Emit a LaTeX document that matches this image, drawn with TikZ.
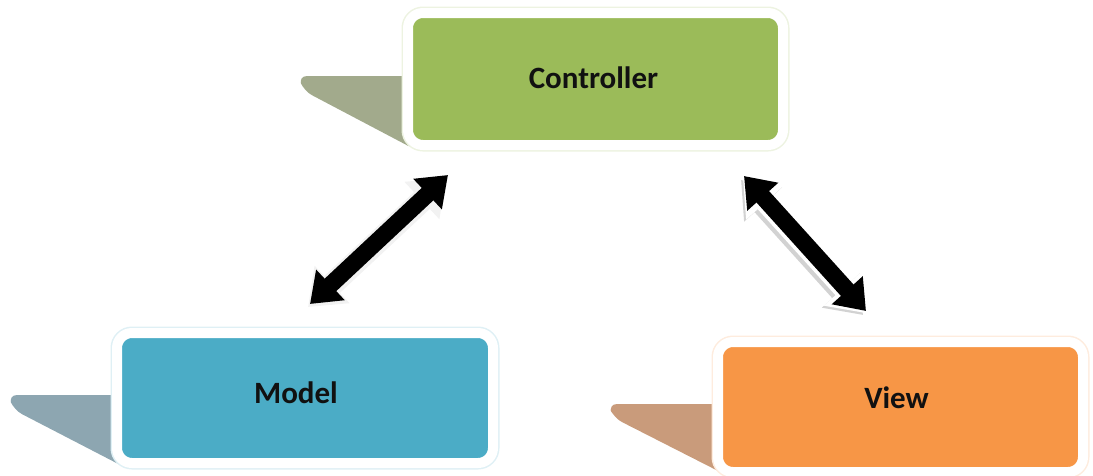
\documentclass[tikz,border=0pt]{standalone}
\usepackage{fontspec}
\setmainfont{Carlito}
\usetikzlibrary{arrows.meta,calc}

\definecolor{ctrlfill}{HTML}{9BBB59}
\definecolor{modelfill}{HTML}{4BACC6}
\definecolor{viewfill}{HTML}{F79646}
\definecolor{ctrltab}{HTML}{A2AA8C}
\definecolor{modeltab}{HTML}{8DA6B1}
\definecolor{viewtab}{HTML}{C99B7B}
\definecolor{inkdark}{HTML}{111111}

\tikzset{
  panel/.style={rounded corners=15pt, draw=white, line width=10pt,
    preaction={draw=#1!18, line width=13pt}, fill=#1},
  tab/.style={fill=#1, rounded corners=9pt},
  lbl/.style={font=\bfseries\fontsize{31}{36}\selectfont, text=inkdark, inner sep=0pt},
  dblarrow/.style={line width=17pt, {Triangle[length=28pt,width=40pt]}-{Triangle[length=28pt,width=40pt]}},
  arrowhalo/.style={line width=23pt, draw=#1, {Triangle[length=33pt,width=49pt]}-{Triangle[length=33pt,width=49pt]}},
}

\begin{document}
\begin{tikzpicture}[x=1pt,y=-1pt]
\useasboundingbox (0,0) rectangle (1093,475);

% folded tabs behind the panels
\fill[tab=ctrltab]  (416,76)  -- (298,76)  -- (304,91)  -- (416,150) -- cycle;
\fill[tab=modeltab] (126,395) -- (8,395)   -- (14,410)  -- (128,469) -- cycle;
\fill[tab=viewtab]  (727,404) -- (608,404) -- (614,418) -- (726,475) -- cycle;

% panels
\node[panel=ctrlfill,  minimum width=375pt, minimum height=132pt] (ctrl)  at (595.5,79) {};
\node[panel=modelfill, minimum width=376pt, minimum height=130pt] (model) at (305,398)  {};
\node[panel=viewfill,  minimum width=365pt, minimum height=130pt] (view)  at (900.5,407) {};

\node[lbl] (ctrl-t)  at ($(ctrl.center)+(-2,-1)$)  {Controller};
\node[lbl] (model-t) at ($(model.center)+(-9,-5)$) {Model};
\node[lbl] (view-t)  at ($(view.center)+(-4,-9)$)  {View};

% arrow ends
\coordinate (m-end) at (310,304);
\coordinate (c-left) at (448,175);
\coordinate (c-right) at (744,176);
\coordinate (v-end) at (866,311);

% model <-> controller
\draw[arrowhalo=gray!10] ($(m-end)+(-2,3)$) -- ($(c-left)+(-2,3)$);
\draw[dblarrow] (m-end) -- (c-left);

% controller <-> view
\draw[arrowhalo=gray!35] ($(c-right)+(-3,4)$) -- ($(v-end)+(-3,4)$);
\draw[arrowhalo=white, line width=20pt] ($(c-right)+(-1,2)$) -- ($(v-end)+(-1,2)$);
\draw[dblarrow] (c-right) -- (v-end);
\end{tikzpicture}
\end{document}
